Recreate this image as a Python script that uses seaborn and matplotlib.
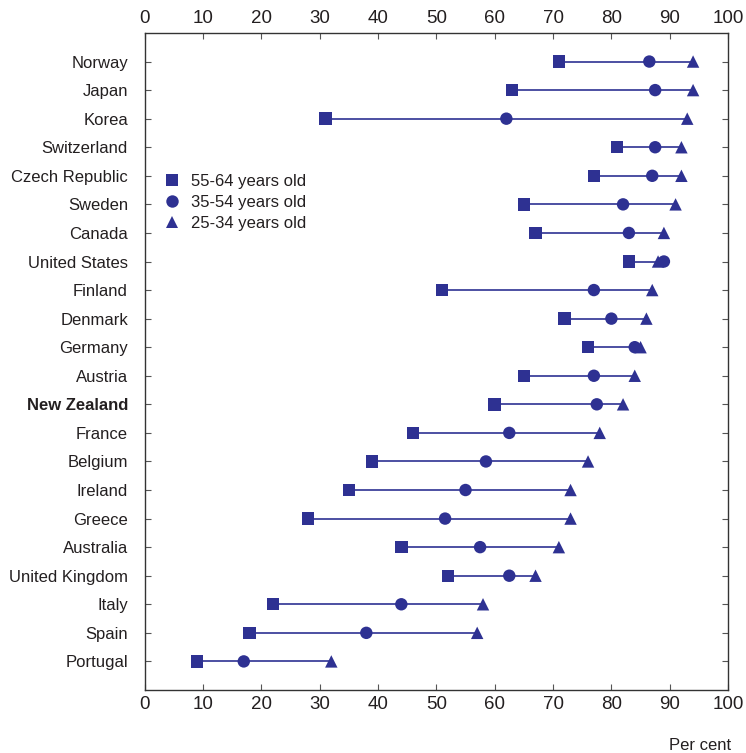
import numpy as np, pandas as pd
import seaborn as sns, matplotlib.pyplot as plt

countries = ["Norway", "Japan", "Korea", "Switzerland", "Czech Republic", "Sweden",
             "Canada", "United States", "Finland", "Denmark", "Germany", "Austria",
             "New Zealand", "France", "Belgium", "Ireland", "Greece", "Australia",
             "United Kingdom", "Italy", "Spain", "Portugal"]
age_55_64 = [71, 63, 31, 81, 77, 65, 67, 83, 51, 72, 76, 65,
             60, 46, 39, 35, 28, 44, 52, 22, 18, 9]
age_35_54 = [86.5, 87.5, 62, 87.5, 87, 82, 83, 89, 77, 80, 84, 77,
             77.5, 62.5, 58.5, 55, 51.5, 57.5, 62.5, 44, 38, 17]
age_25_34 = [94, 94, 93, 92, 92, 91, 89, 88, 87, 86, 85, 84,
             82, 78, 76, 73, 73, 71, 67, 58, 57, 32]
groups = ["55-64 years old", "35-54 years old", "25-34 years old"]
xticks = list(range(0, 101, 10))

navy = "#2E3192"
txt = "#231F20"

df = pd.DataFrame({"country": countries, groups[0]: age_55_64,
                   groups[1]: age_35_54, groups[2]: age_25_34})
long = df.melt(id_vars="country", var_name="group", value_name="pct")

sns.set_style("white")
plt.rcParams["font.family"] = ["Liberation Sans", "DejaVu Sans"]
plt.rcParams["text.color"] = txt

fig = plt.figure(figsize=(7.46, 7.53), dpi=100)
ax = fig.add_axes([0.1938, 0.0837, 0.7822, 0.8725])

# connecting line from lowest to highest value in each row
lo = df[groups].min(axis=1)
hi = df[groups].max(axis=1)
ax.hlines(y=np.arange(len(countries)), xmin=lo, xmax=hi, color=navy, lw=1.2, zorder=1)

sns.scatterplot(data=long, x="pct", y="country", hue="group", style="group",
                hue_order=groups, style_order=groups,
                palette=[navy] * 3, markers={groups[0]: "s", groups[1]: "o", groups[2]: "^"},
                s=80, linewidth=0, ax=ax, zorder=3)

ax.set_xlim(0, 100)
ax.set_ylim(len(countries), -1)
ax.set_xticks(xticks)
ax.set_yticks(np.arange(len(countries)))
ax.set_yticklabels(countries)
ax.set_xlabel("")
ax.set_ylabel("")

for lab in ax.get_yticklabels():
    if lab.get_text() == "New Zealand":
        lab.set_fontweight("bold")

ax.tick_params(axis="x", direction="in", top=True, bottom=True, labeltop=True,
               labelbottom=True, length=4, width=0.8, labelsize=13.5, pad=4,
               colors="#555555", labelcolor=txt)
ax.tick_params(axis="y", direction="in", left=True, right=True, length=4, width=0.8,
               labelsize=12, pad=12, colors="#555555", labelcolor=txt)
for sp in ax.spines.values():
    sp.set_color("#333333")
    sp.set_linewidth(1.0)

ax.legend(loc="upper left", bbox_to_anchor=(0.019, 0.798), frameon=False,
          fontsize=12, handlelength=1.0, handletextpad=0.6, labelspacing=0.35,
          borderpad=0, markerscale=1.0)

fig.text(0.98, 0.0, "Per cent", ha="right", va="bottom", fontsize=12, color=txt)

fig.savefig("out.png", dpi=100)
